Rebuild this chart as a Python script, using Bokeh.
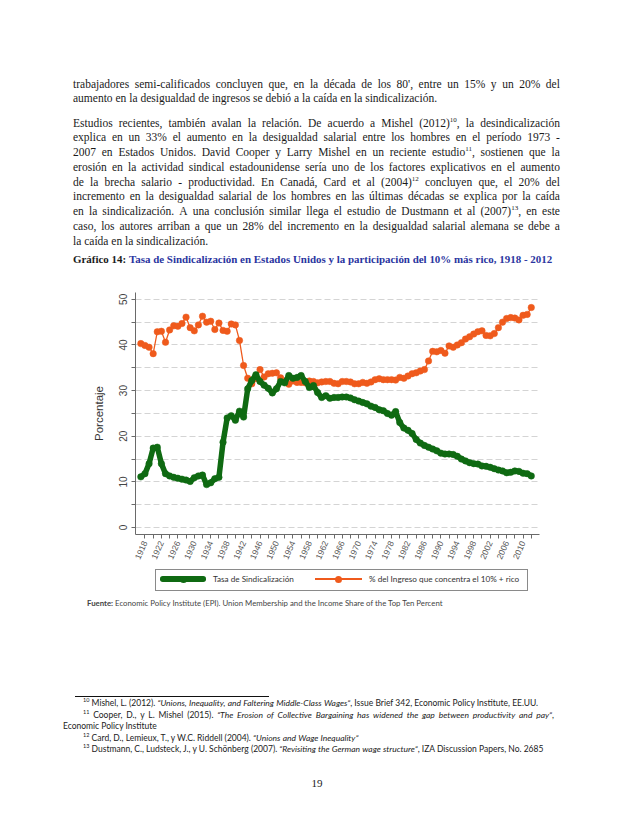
import math
from bokeh.plotting import figure
from bokeh.models import (ColumnDataSource, FixedTicker, LabelSet, Div, Range1d)
from bokeh.layouts import column
from bokeh.embed import file_html
from bokeh.resources import INLINE

# ---------------- data ----------------
years = list(range(1917, 2013))

union_rate = [
    11.1, 11.8, 14.0, 17.4, 17.6, 14.0, 11.8, 11.3, 11.0, 10.8, 10.6, 10.4, 10.1,   # 1917-1929
    10.9, 11.3, 11.5, 9.4, 9.8, 10.7, 11.0, 18.7, 24.0, 24.5,                        # 1930-1939
    23.5, 25.5, 24.2, 30.4, 32.2, 33.5, 32.0, 31.2, 30.5, 29.5,                      # 1940-1949
    30.4, 32.0, 31.7, 33.3, 32.7, 32.9, 33.3, 32.0, 30.7, 31.1,                      # 1950-1959
    29.6, 28.5, 28.9, 28.3, 28.5, 28.5, 28.6, 28.6, 28.4, 28.0,                      # 1960-1969
    27.7, 27.4, 27.1, 26.6, 26.3, 25.8, 25.6, 25.0, 24.6, 25.4,                      # 1970-1979
    23.0, 21.8, 21.3, 20.6, 19.3, 18.5, 18.0, 17.6, 17.2, 16.8,                      # 1980-1989
    16.3, 16.1, 16.1, 16.0, 15.6, 15.0, 14.6, 14.2, 14.0, 13.9,                      # 1990-1999
    13.5, 13.4, 13.2, 12.9, 12.6, 12.4, 12.0, 12.1, 12.4, 12.3,                      # 2000-2009
    11.9, 11.8, 11.3,                                                                # 2010-2012
]

top10_share = [
    40.3, 39.9, 39.5, 38.1, 42.9, 43.0, 40.6, 43.3, 44.2, 44.1, 44.7, 46.1, 43.8,   # 1917-1929
    43.1, 44.4, 46.3, 45.0, 45.2, 43.4, 44.8, 43.2, 43.0, 44.6,                      # 1930-1939
    44.4, 41.0, 35.5, 32.7, 31.5, 32.6, 34.6, 33.0, 33.7, 33.8,                      # 1940-1949
    33.9, 32.8, 32.1, 31.4, 32.1, 31.8, 31.8, 31.7, 32.1, 32.0,                      # 1950-1959
    31.7, 31.9, 32.0, 32.0, 31.6, 31.5, 32.0, 32.0, 31.9, 31.5,                      # 1960-1969
    31.5, 31.8, 31.6, 31.9, 32.4, 32.6, 32.4, 32.4, 32.4, 32.3,                      # 1970-1979
    32.9, 32.7, 33.2, 33.7, 33.9, 34.3, 34.6, 36.5, 38.6, 38.5,                      # 1980-1989
    38.8, 38.2, 39.8, 39.5, 40.0, 40.5, 41.3, 41.8, 42.4, 42.9,                      # 1990-1999
    43.1, 42.1, 42.0, 42.5, 43.8, 45.0, 45.8, 46.0, 45.9, 45.5,                      # 2000-2009
    46.5, 46.7, 48.2,                                                                # 2010-2012
]
assert len(union_rate) == len(years) == len(top10_share)

y_ticks = [0, 5, 10, 15, 20, 25, 30, 35, 40, 45, 50]
y_minor = [5, 15, 25, 35, 45]
x_ticks = list(range(1918, 2013, 2))
x_small = list(range(1920, 2013, 4))

series_names = ["Tasa de Sindicalización", "% del Ingreso que concentra el 10% + rico"]
y_axis_title = "Porcentaje"

GREEN = "#0f6a12"
ORANGE = "#ef5a1c"

# ---------------- chart ----------------
p = figure(width=622, height=292, output_backend="svg", toolbar_location=None,
           x_range=Range1d(1915.7, 2014.0), y_range=Range1d(-1.53, 51.5),
           min_border_left=135, min_border_right=83, min_border_top=20,
           min_border_bottom=29)
p.outline_line_color = None
p.background_fill_color = "white"
p.border_fill_color = "white"

src = ColumnDataSource(dict(year=years, union=union_rate, top10=top10_share))
p.line("year", "top10", source=src, line_color=ORANGE, line_width=1.3)
p.scatter("year", "top10", source=src, size=6.5, fill_color=ORANGE,
          line_color=ORANGE, line_width=0.5)
p.line("year", "union", source=src, line_color=GREEN, line_width=5.5)
p.scatter("year", "union", source=src, size=6.5, fill_color=GREEN,
          line_color=GREEN, line_width=0.5)

yax = p.yaxis[0]
yax.ticker = FixedTicker(ticks=y_ticks)
yax.major_label_overrides = {v: "" for v in y_minor}
yax.major_label_orientation = "vertical"
yax.major_label_text_font = "Liberation Sans"
yax.major_label_text_font_size = "10px"
yax.major_label_text_color = "#444444"
yax.major_label_standoff = 4
yax.major_tick_out = 4
yax.major_tick_in = 0
yax.minor_tick_out = 0
yax.minor_tick_in = 0
yax.axis_line_color = "#6a6a6a"
yax.major_tick_line_color = "#6a6a6a"
yax.axis_label = y_axis_title
yax.axis_label_text_font = "Liberation Sans"
yax.axis_label_text_font_size = "11.5px"
yax.axis_label_text_font_style = "normal"
yax.axis_label_text_color = "#333333"
yax.axis_label_standoff = 12

xax = p.xaxis[0]
xax.ticker = FixedTicker(ticks=x_ticks)
xax.major_label_overrides = {v: "" for v in x_small}
xax.major_label_orientation = 1.15
xax.major_label_text_font = "Liberation Sans"
xax.major_label_text_font_size = "8.5px"
xax.major_label_text_color = "#555555"
xax.major_label_standoff = 3
xax.major_tick_out = 4
xax.major_tick_in = 0
xax.minor_tick_out = 0
xax.minor_tick_in = 0
xax.axis_line_color = "#6a6a6a"
xax.major_tick_line_color = "#6a6a6a"

p.xgrid.visible = False
p.ygrid.grid_line_color = "#d4d4d4"
p.ygrid.grid_line_dash = "6 3"
p.ygrid.grid_line_width = 1

ysrc = ColumnDataSource(dict(y=y_minor, text=[str(v) for v in y_minor]))
p.add_layout(LabelSet(x=-15, y="y", x_units="screen", text="text", source=ysrc,
                      angle=math.pi / 2, text_align="center", text_baseline="middle",
                      text_font="Liberation Sans", text_font_size="5px",
                      text_color="#777777"))
xsrc = ColumnDataSource(dict(x=x_small, text=[str(v) for v in x_small]))
p.add_layout(LabelSet(x="x", y=-7, y_units="screen", text="text", source=xsrc,
                      angle=1.15, text_align="right", text_baseline="middle",
                      text_font="Liberation Sans", text_font_size="6px",
                      text_color="#666666"))

# ---------------- text blocks ----------------
SERIF = "'Liberation Serif', serif"
SANS = "Lato, 'Open Sans', sans-serif"


def tokens(segments):
    toks = [[]]
    for text, st in segments:
        parts = text.split(" ")
        for i, part in enumerate(parts):
            if i > 0:
                toks.append([])
            if part:
                toks[-1].append((part, st))
    return [t for t in toks if t]


def run_html(part, st, supsize):
    if st == "i":
        return f"<i>{part}</i>"
    if st == "b":
        return f"<b>{part}</b>"
    if st == "sup":
        return (f'<span style="font-size:{supsize}px;vertical-align:{supsize * 0.7:.1f}px;'
                f'line-height:0">{part}</span>')
    if st == "blue":
        return f'<span style="color:#2a35a0;font-weight:bold">{part}</span>'
    return part


def line(segments, cy, left, width, top0, justify=True, size=11.5, lh=14,
         font=SERIF, color="#1a1a1a", supsize=7, align="left"):
    top = cy - lh / 2 - top0
    toks = tokens(segments)
    words = ["".join(run_html(a, s, supsize) for a, s in t) for t in toks]
    base = (f'position:absolute;left:{left - 8}px;top:{top}px;width:{width}px;'
            f'height:{lh}px;line-height:{lh}px;font-family:{font};font-size:{size}px;'
            f'color:{color};white-space:nowrap;')
    if justify:
        inner = "".join(f"<span>{w}</span>" for w in words)
        return f'<div style="{base}display:flex;justify-content:space-between;">{inner}</div>'
    return f'<div style="{base}text-align:{align};">{" ".join(words)}</div>'


def box(left, top, width, height, top0, style):
    return (f'<div style="position:absolute;box-sizing:border-box;left:{left - 8}px;'
            f'top:{top - top0}px;width:{width}px;height:{height}px;{style}"></div>')


N = None
body = [
    ([("trabajadores semi-calificados concluyen que, en la década de los 80', entre un 15% y un 20% del", N)], 87, True),
    ([("aumento en la desigualdad de ingresos se debió a la caída en la sindicalización.", N)], 101.2, False),
    ([("Estudios recientes, también avalan la relación. De acuerdo a Mishel (2012)", N), ("10", "sup"), (", la desindicalización", N)], 125.6, True),
    ([("explica en un 33% el aumento en la desigualdad salarial entre los hombres en el período 1973 -", N)], 140.4, True),
    ([("2007 en Estados Unidos. David Cooper y Larry Mishel en un reciente estudio", N), ("11", "sup"), (", sostienen que la", N)], 155.1, True),
    ([("erosión en la actividad sindical estadounidense sería uno de los factores explicativos en el aumento", N)], 169.9, True),
    ([("de la brecha salario - productividad. En Canadá, Card et al (2004)", N), ("12", "sup"), (" concluyen que, el 20% del", N)], 184.6, True),
    ([("incremento en la desigualdad salarial de los hombres en las últimas décadas se explica por la caída", N)], 199.4, True),
    ([("en la sindicalización. A una conclusión similar llega el estudio de Dustmann et al (2007)", N), ("13", "sup"), (", en este", N)], 214.1, True),
    ([("caso, los autores arriban a que un 28% del incremento en la desigualdad salarial alemana se debe a", N)], 228.9, True),
    ([("la caída en la sindicalización.", N)], 243.6, False),
]
top_html = "".join(line(s, cy, 76, 487, 8, j) for s, cy, j in body)
top_html += line([("Gráfico 14:", "b"),
                  (" Tasa de Sindicalización en Estados Unidos y la participación del 10% más rico, 1918 - 2012", "blue")],
                 262, 76, 490, 8, False, size=10.95)
div1 = Div(text=f'<div style="position:relative;width:622px;height:262px;overflow:hidden">{top_html}</div>',
           width=622, height=262)

# ---------------- legend + source + footnotes (one HTML block under the chart) ----------------
O = 570  # page y where this block's content starts
CY = 580
bot = box(158, O, 373, 22, O, "border:1px solid #8a8a8a;background:white")
bot += box(163, CY - 2.75, 46, 5.5, O, f"background:{GREEN};border-radius:2.75px")
bot += box(182.5, CY - 3.5, 7, 7, O, f"background:{GREEN};border-radius:50%")
bot += box(318, CY - 0.65, 47, 1.3, O, f"background:{ORANGE}")
bot += box(338, CY - 3.5, 7, 7, O, f"background:{ORANGE};border-radius:50%")
bot += line([(series_names[0], N)], CY, 216, 100, O, False, size=8.2, lh=10, font=SANS, color="#333")
bot += line([(series_names[1], N)], CY, 372, 155, O, False, size=8.2, lh=10, font=SANS, color="#333")

bot += line([("Fuente:", "b"), (" Economic Policy Institute (EPI). Union Membership and the Income Share of the Top Ten Percent", N)],
            604, 90, 470, O, False, size=7.8, lh=10, font=SANS, color="#444")
bot += (f'<div style="position:absolute;left:{78 - 8}px;top:{697 - O}px;width:194px;'
        f'height:0;border-top:1px solid #111"></div>')
foot = [
    ([("10", "sup"), (" Mishel, L. (2012). ", N), ("“Unions, Inequality, and Faltering Middle-Class Wages”", "i"),
      (", Issue Brief 342, Economic Policy Institute, EE.UU.", N)], 704, 86, 470, False),
    ([("11", "sup"), (" Cooper, D., y L. Mishel (2015). ", N),
      ("“The Erosion of Collective Bargaining has widened the gap between productivity and pay”", "i"), (",", N)],
     716, 86, 471, True),
    ([("Economic Policy Institute", N)], 727, 66, 200, False),
    ([("12", "sup"), (" Card, D., Lemieux, T., y W.C. Riddell (2004). ", N), ("“Unions and Wage Inequality”", "i")],
     739, 86, 400, False),
    ([("13", "sup"), (" Dustmann, C., Ludsteck, J., y U. Schönberg (2007). ", N),
      ("“Revisiting the German wage structure”", "i"), (", IZA Discussion Papers, No. 2685", N)],
     750.5, 86, 470, False),
]
for s, cy, left, w, j in foot:
    bot += line(s, cy, left, w, O, j, size=8.5, lh=11, font=SANS, color="#222", supsize=5.5)
bot += line([("19", N)], 784, 300, 40, O, False, size=11, lh=14, align="center")
div2 = Div(text=f'<div style="position:relative;width:622px;height:236px;overflow:hidden">{bot}</div>',
           width=622, height=236)

layout = column(div1, p, div2, spacing=0)
open("out.html", "w").write(file_html(layout, INLINE))
